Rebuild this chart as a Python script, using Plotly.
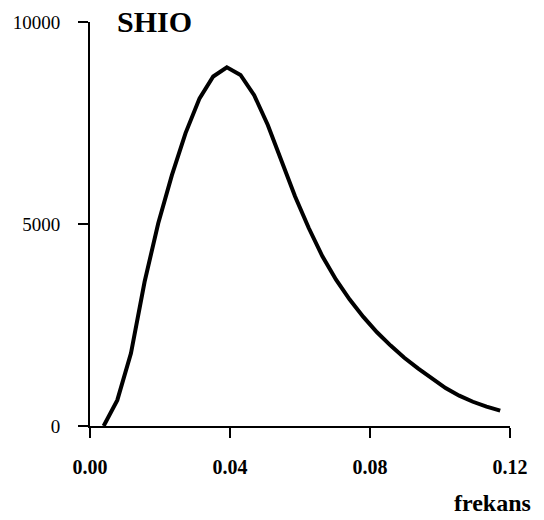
import plotly.graph_objects as go

# Spectral density of the SHIO series against frequency
frekans = [0.0039, 0.0078, 0.0117, 0.0156, 0.0195, 0.0234, 0.0273, 0.0313,
           0.0352, 0.0391, 0.0430, 0.0469, 0.0508, 0.0547, 0.0586, 0.0625,
           0.0664, 0.0703, 0.0742, 0.0781, 0.0820, 0.0859, 0.0898, 0.0938,
           0.0977, 0.1016, 0.1055, 0.1094, 0.1133, 0.1172]
spektrum = [0, 640, 1800, 3570, 5020, 6210, 7250, 8110, 8650, 8880,
            8690, 8190, 7450, 6580, 5680, 4900, 4200, 3620, 3130, 2700,
            2320, 1990, 1690, 1420, 1170, 940, 750, 600, 480, 380]

x_ticks = [0.00, 0.04, 0.08, 0.12]
x_tick_text = ["0.00", "0.04", "0.08", "0.12"]
y_ticks = [0, 5000, 10000]
y_tick_text = ["0", "5000", "10000"]

SERIF = "Liberation Serif, Times New Roman, serif"

fig = go.Figure()
fig.add_trace(go.Scatter(
    x=frekans, y=spektrum, mode="lines",
    line=dict(color="black", width=4),
    showlegend=False, hoverinfo="skip",
))

W, H = 544, 520
L, R, T, B = 90, 34, 22, 94

fig.update_layout(
    width=W, height=H,
    margin=dict(l=L, r=R, t=T, b=B, pad=0),
    paper_bgcolor="white", plot_bgcolor="white",
    font=dict(family=SERIF, color="black"),
    xaxis=dict(
        range=[0, 0.12], tickvals=x_ticks, ticktext=x_tick_text,
        showgrid=False, zeroline=False,
        showline=True, linecolor="black", linewidth=2,
        ticks="outside", ticklen=10, tickwidth=2, tickcolor="black",
        tickfont=dict(family=SERIF, size=20, color="black", weight="bold"),
        ticklabelstandoff=12,
    ),
    yaxis=dict(
        range=[0, 10000], tickvals=y_ticks, ticktext=y_tick_text,
        showgrid=False, zeroline=False,
        showline=True, linecolor="black", linewidth=2,
        ticks="outside", ticklen=10, tickwidth=2, tickcolor="black",
        tickfont=dict(family=SERIF, size=19, color="black"),
        ticklabelstandoff=14,
    ),
    annotations=[
        dict(text="<b>SHIO</b>", xref="paper", yref="paper",
             x=(154 - L) / (W - L - R), y=(H - B - 21) / (H - T - B),
             xanchor="center", yanchor="middle", showarrow=False,
             font=dict(family=SERIF, size=30, color="black")),
        dict(text="<b>frekans</b>", xref="paper", yref="paper",
             x=(533 - L) / (W - L - R), y=(H - B - 503) / (H - T - B),
             xanchor="right", yanchor="middle", showarrow=False,
             font=dict(family=SERIF, size=24, color="black")),
    ],
)

fig.write_html("out.html")
